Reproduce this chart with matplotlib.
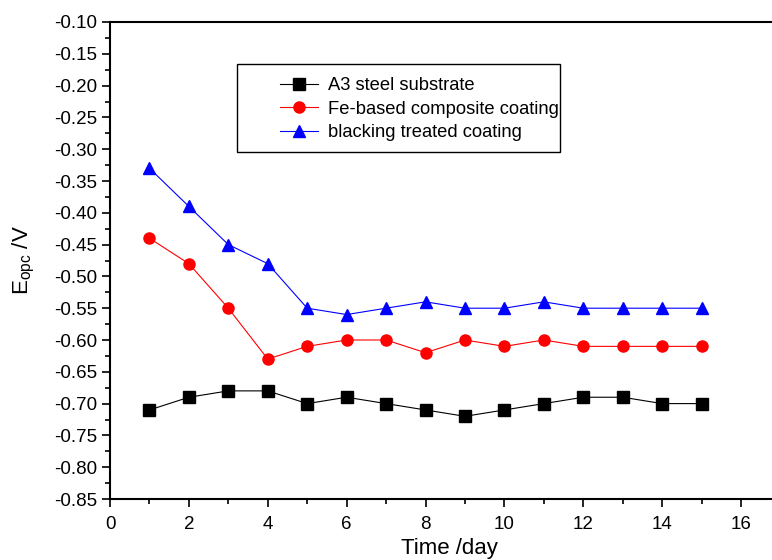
import matplotlib
matplotlib.use("Agg")
import matplotlib.pyplot as plt
from matplotlib.ticker import MultipleLocator, FormatStrFormatter
from matplotlib.patches import Rectangle

plt.rcParams['font.family'] = ['Liberation Sans', 'DejaVu Sans']

days = [1, 2, 3, 4, 5, 6, 7, 8, 9, 10, 11, 12, 13, 14, 15]
a3_steel = [-0.71, -0.69, -0.68, -0.68, -0.70, -0.69, -0.70, -0.71, -0.72, -0.71, -0.70, -0.69, -0.69, -0.70, -0.70]
fe_coating = [-0.44, -0.48, -0.55, -0.63, -0.61, -0.60, -0.60, -0.62, -0.60, -0.61, -0.60, -0.61, -0.61, -0.61, -0.61]
blacking = [-0.33, -0.39, -0.45, -0.48, -0.55, -0.56, -0.55, -0.54, -0.55, -0.55, -0.54, -0.55, -0.55, -0.55, -0.55]
labels = ["A3 steel substrate", "Fe-based composite coating", "blacking treated coating"]

W, H = 772, 560
fig = plt.figure(figsize=(W/100, H/100), dpi=100)
ax_w = 17.2 * 39.44
ax = fig.add_axes([110/W, 1 - 499/H, ax_w/W, (499-22)/H])

ax.plot(days, a3_steel, color='black', marker='s', markersize=8, lw=0.8, label=labels[0])
ax.plot(days, fe_coating, color='red', marker='o', markersize=8, lw=0.8, label=labels[1])
ax.plot(days, blacking, color='blue', marker='^', markersize=9, lw=0.8, label=labels[2])

ax.set_xlim(0, 17.2)
ax.set_ylim(-0.85, -0.10)
ax.xaxis.set_major_locator(MultipleLocator(2))
ax.xaxis.set_minor_locator(MultipleLocator(1))
ax.yaxis.set_major_locator(MultipleLocator(0.05))
ax.yaxis.set_minor_locator(MultipleLocator(0.025))
ax.yaxis.set_major_formatter(FormatStrFormatter('%.2f'))
ax.tick_params(which='major', direction='out', length=6, width=1.2, labelsize=13.5)
ax.tick_params(axis='x', which='major', pad=6)
ax.tick_params(which='minor', direction='out', length=3.5, width=1.2)
ax.tick_params(axis='x', which='both', top=False)
for s in ['left', 'top', 'bottom']:
    ax.spines[s].set_linewidth(1.5)
ax.spines['right'].set_visible(False)

ax.set_xlabel("Time /day", fontsize=16, labelpad=4)
ax.set_ylabel(r"E$_{\mathregular{opc}}$ /V", fontsize=16, labelpad=12)

# legend frame (Origin-style, wide left padding)
fig.patches.append(Rectangle((237/W, 1 - 152/H), (560-237)/W, (152-64)/H,
                             transform=fig.transFigure, fill=False,
                             edgecolor='black', linewidth=1.0, zorder=5))
leg = ax.legend(loc='upper left', bbox_to_anchor=(280/W, 1 - 77/H),
                bbox_transform=fig.transFigure,
                fontsize=13.2, frameon=False, handlelength=2.05,
                borderpad=0.0, borderaxespad=0.0, labelspacing=0.36, handletextpad=0.55)

fig.savefig("out.png", dpi=100)
